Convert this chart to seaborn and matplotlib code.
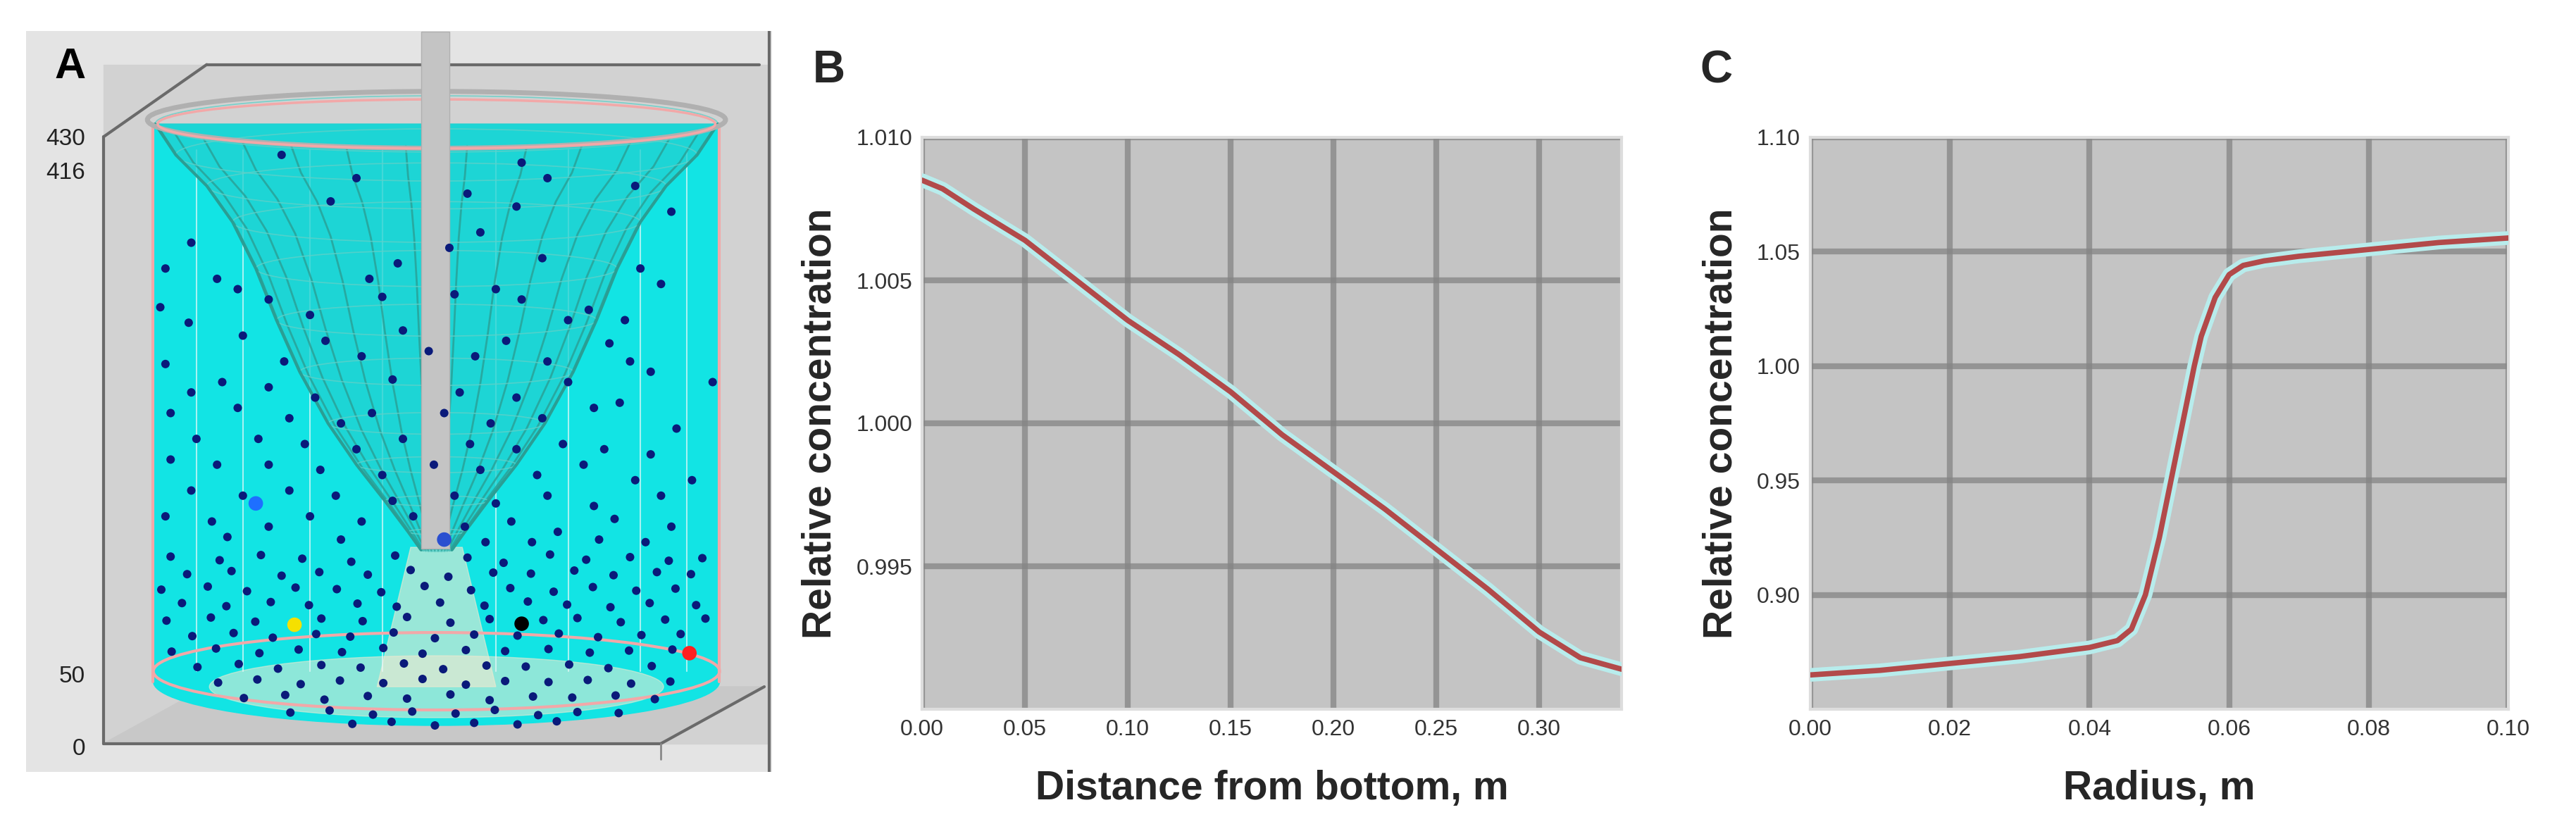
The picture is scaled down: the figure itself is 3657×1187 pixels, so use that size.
import numpy as np
import pandas as pd
import matplotlib
matplotlib.use("Agg")
import matplotlib.pyplot as plt
from matplotlib.patches import Ellipse, Rectangle, Polygon
import seaborn as sns

sns.set_style("white")
plt.rcParams['font.family'] = ['Liberation Sans', 'DejaVu Sans']

# ---------------- data ----------------
dist_m = [0.0, 0.01, 0.025, 0.05, 0.075, 0.10, 0.125, 0.15, 0.175, 0.20, 0.225, 0.25, 0.275, 0.30, 0.32, 0.34]
conc_dist = [1.0085, 1.0082, 1.0075, 1.0064, 1.0050, 1.0036, 1.0024, 1.0011, 0.9996, 0.9983, 0.9970, 0.9956, 0.9942, 0.9927, 0.9918, 0.9914]

radius_m = [0.0, 0.01, 0.02, 0.03, 0.04, 0.044, 0.046, 0.048, 0.050, 0.052, 0.054, 0.055, 0.056, 0.058, 0.060, 0.062, 0.065, 0.07, 0.08, 0.09, 0.10]
conc_rad = [0.865, 0.867, 0.870, 0.873, 0.877, 0.880, 0.885, 0.900, 0.925, 0.955, 0.985, 1.000, 1.013, 1.030, 1.040, 1.044, 1.046, 1.048, 1.051, 1.054, 1.056]

b_xticks = [0.00, 0.05, 0.10, 0.15, 0.20, 0.25, 0.30]
b_yticks = [0.995, 1.000, 1.005, 1.010]
c_xticks = [0.00, 0.02, 0.04, 0.06, 0.08, 0.10]
c_yticks = [0.90, 0.95, 1.00, 1.05, 1.10]

# panel A particle positions (image pixel frame)
particles_x = [545,1010,690,905,1060,1230,1300,640,1000,370,930,870,320,770,1050,1240,1280,420,520,460,715,960,1010,310,1140,1210,600,740,880,365,1100,630,780,1180,470,700,980,1060,1380,320,550,830,920,1260,1220,
               370,430,520,610,760,890,1000,1100,1150,330,460,560,660,720,860,950,1050,1200,1310,380,500,590,690,780,910,1000,1090,1170,1260,330,420,520,620,740,840,930,1040,1130,1230,1340,370,470,560,650,760,880,960,1060,1150,1280,320,410,520,600,700,800,900,990,1080,1190,1300,440,660,940,1030,1160,1250,
               330,425,505,585,680,765,905,975,1065,1135,1220,1295,1360,
               362,448,545,618,712,795,868,955,1028,1112,1188,1272,1338,
               312,402,478,572,652,738,822,912,988,1072,1148,1232,1308,
               352,438,524,598,692,768,852,938,1022,1098,1182,1258,1348,
               322,408,494,622,702,788,872,948,1052,1118,1202,1288,1366,
               372,452,528,612,678,762,842,918,1002,1082,1158,1242,1318,
               332,418,502,578,662,742,818,902,978,1062,1142,1218,1302,
               382,462,538,622,698,782,858,942,1018,1102,1178,1262,
               422,498,582,658,742,818,902,978,1062,1138,1222,1298,
               472,552,628,712,788,872,948,1032,1108,1192,1268,
               562,638,722,798,882,958,1042,1118,1198,
               682,758,842,918,1002,1078]
particles_y = [300,315,345,375,345,360,410,390,400,470,450,480,520,510,500,520,550,540,580,560,540,560,580,595,600,620,610,575,570,625,620,660,640,665,650,690,660,700,740,705,700,680,690,720,700,
               760,740,750,770,735,760,770,740,790,800,790,810,820,800,800,820,810,780,830,850,850,860,870,850,860,870,860,870,880,890,900,900,910,920,900,910,920,900,930,930,950,960,950,960,970,960,975,960,980,960,1000,1010,1020,1000,1010,1000,1020,1010,1030,1005,1020,1040,1045,1050,1050,1045,1050,
               1078,1085,1075,1082,1088,1076,1080,1090,1074,1084,1079,1086,1081,
               1112,1106,1115,1108,1113,1104,1117,1109,1111,1105,1114,1108,1112,
               1142,1136,1145,1138,1141,1147,1135,1143,1139,1146,1137,1144,1140,
               1168,1174,1166,1172,1169,1175,1167,1173,1165,1171,1176,1168,1172,
               1202,1196,1204,1198,1203,1195,1206,1199,1201,1197,1205,1200,1198,
               1232,1226,1235,1228,1233,1225,1236,1229,1231,1227,1234,1230,1228,
               1262,1256,1265,1258,1263,1255,1266,1259,1261,1257,1264,1260,1258,
               1292,1286,1295,1288,1293,1285,1296,1289,1291,1287,1294,1290,
               1322,1316,1325,1318,1323,1315,1326,1319,1321,1317,1324,1320,
               1352,1346,1355,1348,1353,1345,1356,1349,1351,1347,1354,
               1380,1376,1384,1378,1382,1375,1385,1379,1381,
               1402,1398,1405,1400,1403,1397]
special_x = [570, 1010, 1335, 495, 860]
special_y = [1210, 1208, 1265, 975, 1045]
special_c = ['#f5e000', '#000000', '#ff2020', '#1e6fff', '#2a4fd0']
height_labels = ['430', '416', '50', '0']
height_label_y = [270, 335, 1310, 1450]

# ---------------- figure ----------------
W, H = 3657, 1187
fig = plt.figure(figsize=(W / 100, H / 100), dpi=100)

def fx(px): return px / W
def fy(py): return 1 - py / H

# ===== Panel A =====
axA = fig.add_axes([fx(37), fy(1096), fx(1096 - 37), (1096 - 44) / H])
axA.set_xlim(50, 1495)
axA.set_ylim(1495, 60)
axA.axis('off')
axA.add_patch(Rectangle((50, 60), 1445, 1435, color='#e4e4e4', zorder=0))
axA.add_patch(Rectangle((200, 125), 1290, 1315, color='#d2d2d2', zorder=0.5))
axA.add_patch(Polygon([[200, 1440], [1280, 1440], [1480, 1330], [400, 1330]], closed=True, color='#c8c8c8', zorder=0.6))
for seg in [([200, 200], [1440, 265]), ([200, 400], [265, 125]), ([400, 1470], [125, 125]),
            ([200, 1280], [1440, 1440]), ([1280, 1480], [1440, 1330]), ([1490, 1490], [60, 1495])]:
    axA.plot(seg[0], seg[1], color='#6a6a6a', lw=3, zorder=1)
axA.plot([1280, 1280], [1440, 1470], color='#8a8a8a', lw=2, zorder=1)

cx = 845
axA.add_patch(Rectangle((295, 240), 1097, 1080, color='#12e4e4', zorder=2))
axA.add_patch(Ellipse((cx, 1320), 1097, 170, color='#12e4e4', zorder=2))
axA.add_patch(Ellipse((cx, 1330), 880, 120, color='#f4ead0', alpha=0.55, zorder=2.1))
axA.add_patch(Polygon([[795, 1060], [895, 1060], [960, 1330], [730, 1330]], closed=True, color='#f4ead0', alpha=0.6, zorder=2.1))
for xv in [380, 470, 600, 740, 960, 1100, 1240, 1330]:
    axA.plot([xv, xv], [290, 1300], color='#e8f8f8', lw=1.5, alpha=0.7, zorder=2.2)
axA.plot([295, 295], [240, 1320], color='#f2a8a8', lw=3, zorder=2.3)
axA.plot([1392, 1392], [240, 1320], color='#f2a8a8', lw=3, zorder=2.3)
axA.add_patch(Ellipse((cx, 1300), 1097, 150, fill=False, ec='#f2a8a8', lw=3, zorder=2.3))

# vortex surface (geometry)
prof_y = np.array([240, 300, 360, 430, 520, 620, 720, 820, 900, 970, 1030, 1065])
prof_r = np.array([545, 505, 445, 395, 350, 310, 265, 210, 155, 100, 55, 30])
poly = np.vstack([np.column_stack([cx - prof_r, prof_y]), np.column_stack([cx + prof_r[::-1], prof_y[::-1]])])
axA.add_patch(Polygon(poly, closed=True, color='#22d0d0', alpha=0.75, zorder=3))
for th in np.linspace(0.15, np.pi - 0.15, 14):
    axA.plot(cx + prof_r * np.cos(th), prof_y + prof_r * 0.08 * np.sin(th), color='#2a9e94', lw=2, alpha=0.8, zorder=3.1)
for yy, rr in zip(prof_y, prof_r):
    axA.add_patch(Ellipse((cx, yy), 2 * rr, 2 * rr * 0.1, fill=False, ec='#5fd0c8', lw=1.2, alpha=0.8, zorder=3.1))
axA.plot(cx - prof_r, prof_y, color='#2a9e94', lw=3, zorder=3.2)
axA.plot(cx + prof_r, prof_y, color='#2a9e94', lw=3, zorder=3.2)
axA.add_patch(Ellipse((cx, 232), 1120, 110, fill=False, ec='#b0b0b0', lw=5, zorder=3.3))
axA.add_patch(Ellipse((cx, 240), 1080, 95, fill=False, ec='#f2a8a8', lw=2.5, zorder=3.3))
axA.add_patch(Rectangle((815, 62), 55, 1000, color='#c4c4c4', ec='#b0b0b0', zorder=3.5))

dfp = pd.DataFrame({'x': particles_x, 'y': particles_y})
sns.scatterplot(data=dfp, x='x', y='y', ax=axA, s=75, color='#0a1a7a', edgecolor='none', zorder=4, legend=False)
dfs = pd.DataFrame({'x': special_x, 'y': special_y, 'c': special_c})
sns.scatterplot(data=dfs, x='x', y='y', hue='c', palette={c: c for c in special_c}, ax=axA, s=220, marker='o', edgecolor='none', zorder=4.5, legend=False)
axA.set_xlim(50, 1495)
axA.set_ylim(1495, 60)
axA.set_xlabel(''); axA.set_ylabel('')
for lab, yy in zip(height_labels, height_label_y):
    axA.text(165, yy, lab, ha='right', va='center', fontsize=24, color='#222222', zorder=5)
axA.text(135, 130, 'A', ha='center', va='center', fontsize=44, fontweight='bold', color='black', zorder=5)

# ===== Panels B and C =====
def style_line_axes(ax, xticks, yticks, xfmt, yfmt, xlim, ylim, xlabel):
    ax.set_facecolor('#c4c4c4')
    ax.set_xlim(*xlim); ax.set_ylim(*ylim)
    ax.set_xticks(xticks); ax.set_yticks(yticks)
    ax.set_xticklabels([xfmt.format(v) for v in xticks], fontsize=23, color='#333333')
    ax.set_yticklabels([yfmt.format(v) for v in yticks], fontsize=23, color='#333333')
    ax.grid(True, color='#858585', lw=6, alpha=0.75)
    ax.set_axisbelow(True)
    for s in ax.spines.values():
        s.set_color('#dddddd'); s.set_linewidth(3)
    ax.tick_params(length=0, pad=10)
    ax.set_xlabel(xlabel, fontsize=41, fontweight='bold', labelpad=30)
    ax.set_ylabel('Relative concentration', fontsize=41, fontweight='bold', labelpad=17)

axB = fig.add_axes([fx(1309), fy(1007), fx(2302 - 1309), (1007 - 195) / H])
dfb = pd.DataFrame({'d': dist_m, 'c': conc_dist})
sns.lineplot(data=dfb, x='d', y='c', ax=axB, color='#b8ecec', lw=14, zorder=3)
sns.lineplot(data=dfb, x='d', y='c', ax=axB, color='#b24a4a', lw=5.5, zorder=4)
style_line_axes(axB, b_xticks, b_yticks, '{:.2f}', '{:.3f}', (0, 0.34), (0.990, 1.010), 'Distance from bottom, m')
fig.text(fx(1177), fy(100), 'B', fontsize=46, fontweight='bold', ha='center', va='center')

axC = fig.add_axes([fx(2570), fy(1007), fx(3561 - 2570), (1007 - 195) / H])
dfc = pd.DataFrame({'r': radius_m, 'c': conc_rad})
sns.lineplot(data=dfc, x='r', y='c', ax=axC, color='#b8ecec', lw=14, zorder=3)
sns.lineplot(data=dfc, x='r', y='c', ax=axC, color='#b24a4a', lw=5.5, zorder=4)
style_line_axes(axC, c_xticks, c_yticks, '{:.2f}', '{:.2f}', (0, 0.10), (0.85, 1.10), 'Radius, m')
fig.text(fx(2436), fy(100), 'C', fontsize=46, fontweight='bold', ha='center', va='center')

fig.savefig('out.png', dpi=100, facecolor='white')
